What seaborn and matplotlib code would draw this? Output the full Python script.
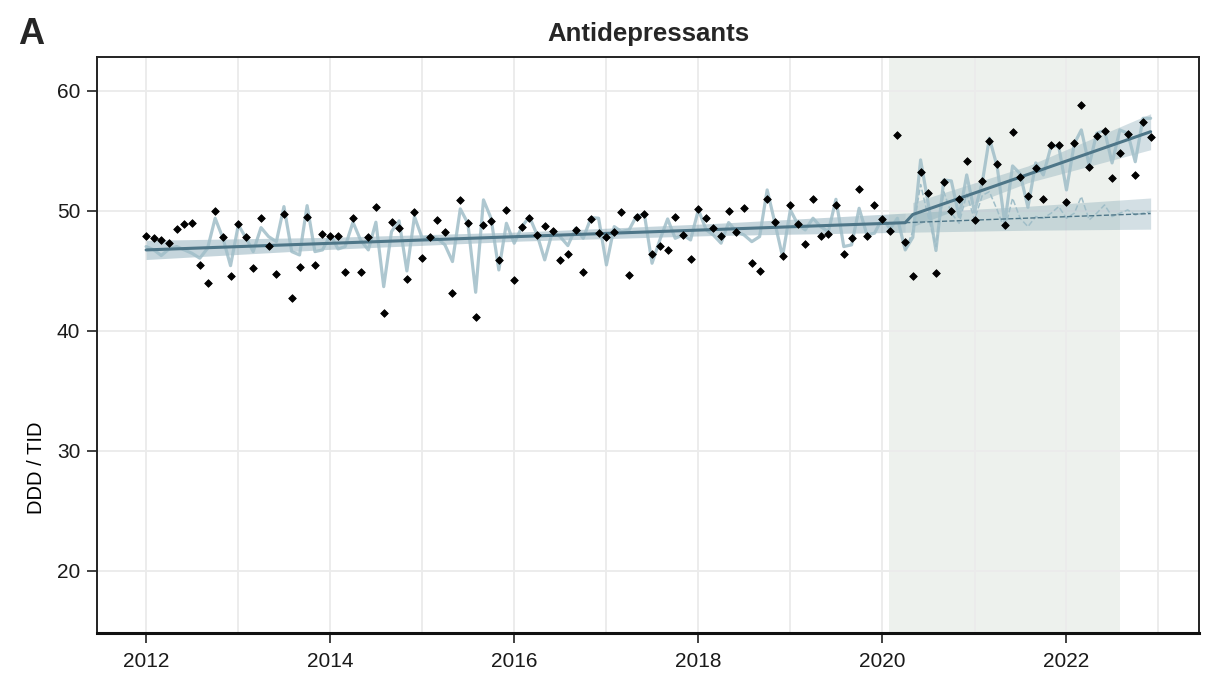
import numpy as np
import pandas as pd
import matplotlib
matplotlib.use("Agg")
import matplotlib.pyplot as plt
import matplotlib.dates as mdates
import seaborn as sns

# monthly DDD/TID, Jan 2012 - Dec 2022
observed = [
    47.94, 47.78, 47.58, 47.36, 48.47, 48.92, 49.03, 45.50, 44.03, 49.97, 47.80, 44.60,
    48.92, 47.80, 45.22, 49.39, 47.08, 44.75, 49.75, 42.72, 45.33, 49.53, 45.47, 48.08,
    47.94, 47.94, 44.89, 49.42, 44.94, 47.80, 50.33, 41.47, 49.11, 48.56, 44.36, 49.94,
    46.06, 47.86, 49.25, 48.22, 43.14, 50.94, 48.97, 41.19, 48.81, 49.19, 45.94, 50.08,
    44.28, 48.64, 49.42, 47.97, 48.78, 48.36, 45.92, 46.44, 48.42, 44.94, 49.33, 48.14,
    47.80, 48.28, 49.89, 44.67, 49.53, 49.75, 46.45, 47.06, 46.75, 49.47, 48.00, 46.00,
    50.14, 49.42, 48.58, 47.92, 50.00, 48.22, 50.25, 45.69, 45.00, 51.03, 49.06, 46.22,
    50.47, 48.92, 47.28, 50.97, 47.89, 48.06, 50.47, 46.42, 47.78, 51.81, 47.89, 50.53,
    49.36, 48.32, 56.33, 47.42, 44.58, 53.22, 51.47, 44.83, 52.44, 50.00, 51.03, 54.19,
    49.25, 52.47, 55.80, 53.94, 48.81, 56.58, 52.81, 51.25, 53.61, 50.97, 55.50, 55.50,
    50.75, 55.64, 58.81, 53.69, 56.28, 56.67, 52.75, 54.81, 56.39, 53.03, 57.39, 56.19,
]

# model fit incl. seasonality
fitted = [
    47.03, 46.75, 46.28, 46.83, 47.03, 46.75, 46.47, 46.06, 46.89, 49.39, 47.72, 45.44,
    48.83, 47.72, 46.61, 48.61, 47.86, 47.44, 50.36, 46.61, 46.33, 50.44, 46.61, 46.75,
    48.00, 46.83, 47.03, 49.06, 47.58, 46.75, 49.06, 43.69, 48.28, 49.17, 45.00, 49.53,
    47.72, 47.86, 47.72, 47.17, 45.78, 50.17, 48.97, 43.22, 50.92, 49.39, 45.08, 48.97,
    47.31, 48.69, 49.53, 48.00, 45.92, 48.28, 47.86, 47.11, 48.56, 47.72, 49.44, 49.39,
    45.50, 48.69, 48.28, 48.42, 49.61, 49.67, 45.64, 47.58, 49.33, 47.72, 48.00, 47.58,
    50.10, 48.42, 48.00, 47.31, 49.03, 48.28, 48.00, 47.44, 47.86, 51.75, 48.97, 46.19,
    50.08, 48.83, 48.42, 49.39, 48.69, 48.28, 50.97, 47.03, 47.17, 50.22, 48.00, 48.14,
    49.39, 48.50, 49.39, 46.75, 47.80, 54.25, 50.64, 46.70, 52.58, 52.50, 49.53, 53.00,
    49.90, 52.40, 56.06, 53.69, 48.97, 53.75, 53.10, 50.30, 54.00, 53.00, 55.40, 55.40,
    51.75, 55.60, 56.75, 53.80, 56.47, 56.70, 54.00, 56.75, 56.47, 54.10, 57.72, 57.72,
]

# counterfactual fit, Apr 2020 - Dec 2022
counterfactual = [
    46.75, 48.28, 52.20, 49.53, 47.03, 51.60, 49.81, 48.97, 51.40, 49.25, 51.30,
    51.60, 50.08, 48.42, 51.06, 49.39, 48.69, 49.53, 49.39, 49.81, 50.36, 49.39,
    49.81, 51.20, 49.25, 49.81, 50.50, 49.53, 49.81, 50.08, 49.67, 49.81, 49.94,
]

# segmented trend
trend_dates = ["2012-01-01", "2020-04-01", "2020-05-01", "2022-12-01"]
trend_vals = [46.75, 49.02, 49.70, 56.60]
cf_dates = ["2020-04-01", "2022-12-01"]
cf_vals = [49.02, 49.78]

# confidence bands
pre_band_dates = ["2012-01-01", "2014-01-01", "2016-02-01", "2018-03-01", "2020-04-01"]
pre_band_lo = [45.95, 46.80, 47.49, 47.95, 48.22]
pre_band_hi = [47.55, 47.80, 48.25, 48.95, 49.82]
cf_band_dates = ["2020-04-01", "2021-08-01", "2022-12-01"]
cf_band_lo = [48.22, 48.39, 48.48]
cf_band_hi = [49.82, 50.39, 51.08]
post_band_dates = ["2020-05-01", "2021-08-01", "2022-12-01"]
post_band_lo = [48.70, 52.35, 55.10]
post_band_hi = [50.70, 53.75, 58.10]

period_start, period_end = "2020-01-27", "2022-08-03"

DARK = "#4e7688"
LIGHT = "#a0bec8"
BAND = "#6f98a8"

sns.set_theme(style="white")
plt.rcParams["font.family"] = ["Liberation Sans", "DejaVu Sans"]

months = pd.date_range("2012-01-01", periods=len(observed), freq="MS")
df = pd.DataFrame({"date": months, "observed": observed, "fitted": fitted})
cf_df = pd.DataFrame({"date": months[-len(counterfactual):], "value": counterfactual})

fig = plt.figure(figsize=(12.17, 6.78), dpi=100)
ax = fig.add_axes([0.0797, 0.0664, 0.9053, 0.8496])

ax.axvspan(pd.Timestamp(period_start), pd.Timestamp(period_end), color="#edf1ed", zorder=0, lw=0)

ax.fill_between(pd.to_datetime(pre_band_dates), pre_band_lo, pre_band_hi, color=BAND, alpha=0.4, lw=0, zorder=2)
ax.fill_between(pd.to_datetime(cf_band_dates), cf_band_lo, cf_band_hi, color=BAND, alpha=0.3, lw=0, zorder=2)
ax.fill_between(pd.to_datetime(post_band_dates), post_band_lo, post_band_hi, color=BAND, alpha=0.3, lw=0, zorder=2)

sns.lineplot(data=df, x="date", y="fitted", color=LIGHT, lw=2.3, alpha=0.85, ax=ax, zorder=3)
sns.lineplot(data=cf_df, x="date", y="value", color=LIGHT, lw=1.1, ls="--", ax=ax, zorder=3)
sns.lineplot(x=pd.to_datetime(cf_dates), y=cf_vals, color=DARK, lw=1.0, ls="--", ax=ax, zorder=4)
sns.lineplot(x=pd.to_datetime(trend_dates), y=trend_vals, color=DARK, lw=2.2, ax=ax, zorder=4)
sns.scatterplot(data=df, x="date", y="observed", color="black", marker="D", s=15,
                edgecolor="black", linewidth=0.6, ax=ax, zorder=5)

ax.set_xlim(pd.Timestamp("2011-06-20"), pd.Timestamp("2023-06-10"))
ax.set_ylim(14.83, 62.83)
ax.set_yticks([20, 30, 40, 50, 60])
ax.xaxis.set_major_locator(mdates.YearLocator(2))
ax.xaxis.set_minor_locator(mdates.YearLocator(1))
ax.xaxis.set_major_formatter(mdates.DateFormatter("%Y"))

ax.grid(True, which="major", color="#ebebeb", lw=1.3, zorder=1)
ax.grid(True, which="minor", axis="x", color="#ebebeb", lw=1.3, zorder=1)
ax.set_axisbelow(True)

for side in ["top", "right", "left"]:
    ax.spines[side].set_color("#222222")
    ax.spines[side].set_linewidth(1.4)
ax.spines["bottom"].set_color("#111111")
ax.spines["bottom"].set_linewidth(2.2)

ax.tick_params(axis="both", which="major", direction="out", length=7, width=1.3, pad=5,
               color="#333333", labelsize=15, labelcolor="#1a1a1a", left=True, bottom=True)
ax.tick_params(axis="x", which="major", pad=7)
ax.tick_params(axis="x", which="minor", length=0)
ax.set_xlabel("")
ax.set_ylabel("DDD / TID", fontsize=14.5, color="black")
ax.yaxis.set_label_coords(-0.046, 0.286)

fig.text(0.5325, 0.9395, "Antidepressants", ha="center", va="baseline", fontsize=18.5, fontweight="bold")
fig.text(0.0148, 0.935, "A", ha="left", va="baseline", fontsize=26, fontweight="bold")

fig.savefig("out.png", dpi=100)
